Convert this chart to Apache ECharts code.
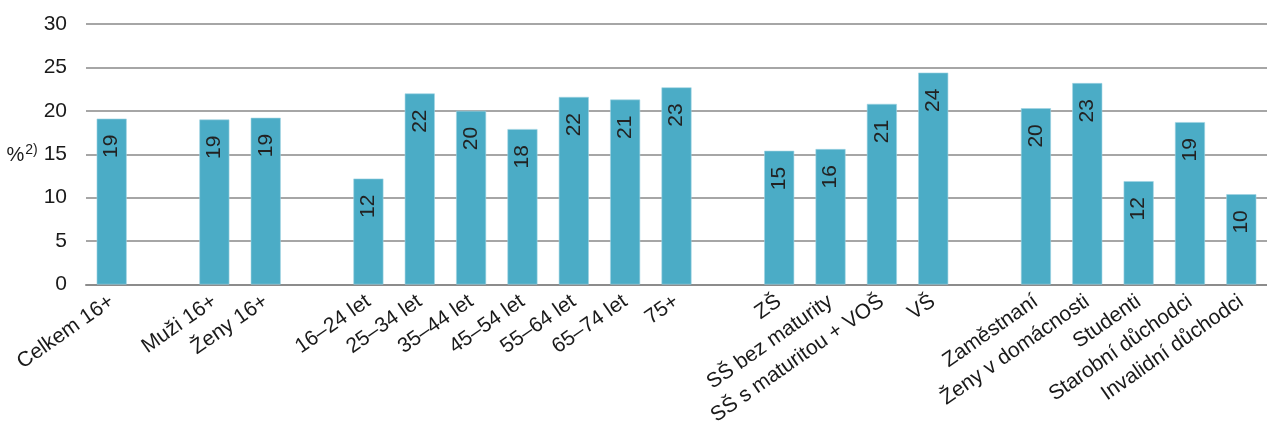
<!DOCTYPE html>
<html>
<head>
<meta charset="utf-8">
<script src="https://cdn.jsdelivr.net/npm/echarts@6/dist/echarts.min.js"></script>
<style>
html,body{margin:0;padding:0;background:#fff;}
#chart{width:1267px;height:428px;}
</style>
</head>
<body>
<div id="chart"></div>
<script>
// Categories (blank entries are spacer slots between groups)
const categories = [
  'Celkem 16+', ' ',
  'Muži 16+', 'Ženy 16+', '  ',
  '16–24 let', '25–34 let', '35–44 let', '45–54 let', '55–64 let', '65–74 let', '75+', '   ',
  'ZŠ', 'SŠ bez maturity', 'SŠ s maturitou + VOŠ', 'VŠ', '    ',
  'Zaměstnaní', 'Ženy v domácnosti', 'Studenti', 'Starobní důchodci', 'Invalidní důchodci'
];
const values = [
  19.1, null,
  19.0, 19.2, null,
  12.2, 22.0, 20.0, 17.9, 21.6, 21.3, 22.7, null,
  15.4, 15.6, 20.8, 24.4, null,
  20.3, 23.2, 11.9, 18.7, 10.4
];
const yTicks = [0, 5, 10, 15, 20, 25, 30];

const chart = echarts.init(document.getElementById('chart'));
const FONT = '"Liberation Sans", Arial, sans-serif';
chart.setOption({
  animation: false,
  grid: { left: 86, right: 0, top: 24, bottom: 142, containLabel: false },
  xAxis: {
    type: 'category',
    data: categories,
    axisTick: { show: false },
    axisLine: { lineStyle: { color: '#8c8c8c', width: 2 } },
    axisLabel: {
      interval: 0,
      rotate: 35,
      margin: 15,
      color: '#1a1a1a',
      fontSize: 21,
      fontFamily: FONT
    }
  },
  yAxis: {
    type: 'value',
    min: yTicks[0],
    max: yTicks[yTicks.length - 1],
    interval: 5,
    name: '{a|%}{b|2)}',
    nameLocation: 'middle',
    nameRotate: 0,
    nameGap: 48,
    nameTextStyle: {
      align: 'right',
      rich: {
        a: { fontSize: 20, fontFamily: FONT, color: '#1a1a1a', verticalAlign: 'bottom' },
        b: { fontSize: 14, fontFamily: FONT, color: '#1a1a1a', verticalAlign: 'top', padding: [0,0,8,1] }
      }
    },
    axisLine: { show: false },
    axisTick: { show: false },
    splitLine: { lineStyle: { color: '#a6a6a6', width: 2 } },
    axisLabel: {
      margin: 19,
      color: '#1a1a1a',
      fontSize: 21,
      fontFamily: FONT
    }
  },
  series: [{
    type: 'bar',
    data: values,
    barWidth: 30,
    itemStyle: { color: '#4BACC6', borderColor: '#9fd3e3', borderWidth: 0.6 },
    label: {
      show: true,
      position: 'insideTop',
      distance: 16,
      rotate: 90,
      align: 'right',
      verticalAlign: 'middle',
      color: '#222',
      fontSize: 21,
      fontFamily: FONT,
      formatter: p => (p.value == null ? '' : String(Math.round(p.value)))
    }
  }]
});
</script>
</body>
</html>
